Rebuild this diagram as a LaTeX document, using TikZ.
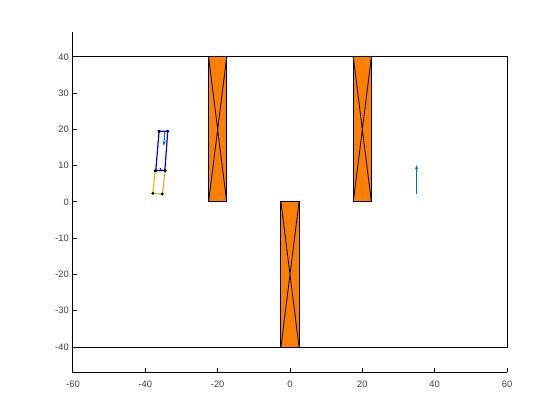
\documentclass[tikz,border=0pt]{standalone}
\usepackage{fontspec}
\setmainfont{Liberation Sans}
\usetikzlibrary{arrows.meta}
\definecolor{obst}{rgb}{1,0.5,0}
\definecolor{trail}{rgb}{0.929,0.694,0.125}
\definecolor{mblue}{rgb}{0,0.447,0.741}
\definecolor{ticktext}{rgb}{0.25,0.25,0.25}
\tikzset{
  spine/.style={black,line width=0.75pt},
  ticklab/.style={font=\fontsize{7}{8}\selectfont,text=ticktext,inner sep=0pt},
  obstacle/.style={fill=obst,draw=black,line width=0.75pt},
  cross/.style={black,line width=0.6pt},
  truck/.style={blue,line width=0.9pt},
  trailer/.style={trail,line width=0.9pt},
  corner/.style={fill=black,draw=none},
  heading/.style={mblue,line width=0.8pt,-{Stealth[length=3.5pt,width=2.5pt]}}
}
\begin{document}
\begin{tikzpicture}[x=0.75pt,y=-0.75pt]
\useasboundingbox (0,0) rectangle (560,420);
\fill[white] (0,0) rectangle (560,420);
\begin{scope}[shift={(290,202)},x=2.7128pt,y=2.71875pt]
  % boundary
  \draw[black,line width=0.75pt] (-60,-40) rectangle (60,40);
  % obstacles
  \foreach \xa/\ya/\xb/\yb in {-22.5/0/-17.5/40, -2.5/-40/2.5/0, 17.5/0/22.5/40}{
    \draw[obstacle] (\xa,\ya) rectangle (\xb,\yb);
    \draw[cross] (\xa,\ya) -- (\xb,\yb) (\xa,\yb) -- (\xb,\ya);
  }
  % trailer
  \draw[trailer] (-37.3,8.6) -- (-34.5,8.6) -- (-35.3,2.2) -- (-37.9,2.4) -- cycle;
  % truck
  \draw[truck] (-36.2,19.5) -- (-33.8,19.5) -- (-34.6,8.7) -- (-37.1,8.7) -- cycle;
  \draw[truck] (-35.9,9.3) -- (-35.6,8.7);
  % corner markers
  \foreach \p in {(-36.2,19.5),(-33.8,19.5),(-34.6,8.7),(-37.1,8.7),(-35.3,2.2),(-37.9,2.4),(-37.3,8.6),(-34.5,8.6)}{
    \fill[corner] \p circle (0.45);
  }
  % headings
  \draw[heading] (-34.6,19.4) -- (-34.9,15.5);
  \draw[heading] (35,2.1) -- (35,10.2);
  % axes
  \draw[spine] (-60,47) -- (-60,-47) -- (60,-47);
  \foreach \y in {-40,-30,...,40}{
    \draw[spine] (-60,\y) -- ++(1.1,0);
    \node[ticklab,anchor=east] at (-61.1,\y) {\y};
  }
  \foreach \x in {-60,-40,...,60}{
    \draw[spine] (\x,-47) -- ++(0,1.1);
    \node[ticklab] at (\x,-50.4) {\x};
  }
\end{scope}
\end{tikzpicture}
\end{document}
